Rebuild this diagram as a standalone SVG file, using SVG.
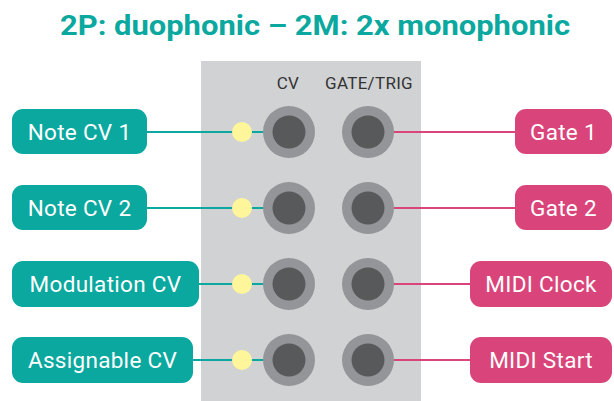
<svg xmlns="http://www.w3.org/2000/svg" width="614" height="401" viewBox="0 0 614 401">
<style>
.title{font-family:Roboto,"Liberation Sans",sans-serif;font-weight:bold;font-size:28px;fill:#0aa89e}
.hdr{font-family:Roboto,"Liberation Sans",sans-serif;font-size:17px;letter-spacing:0.3px;fill:#333}
.lbl{font-family:Roboto,"Liberation Sans",sans-serif;font-size:22.5px;letter-spacing:0.3px;fill:#fff;text-anchor:middle}
.tb{fill:#0aa89e}
.pb{fill:#d9457a}
.outer{fill:#939598}
.inner{fill:#58595b}
.led{fill:#fff59a}
.tl{stroke:#0aa89e;stroke-width:2.2;fill:none}
.pl{stroke:#d9457a;stroke-width:2.2;fill:none}
</style>
<rect width="614" height="401" fill="#fff"/>
<text class="title" x="60" y="35" textLength="510" lengthAdjust="spacingAndGlyphs">2P: duophonic – 2M: 2x monophonic</text>
<g id="panel">
<rect x="201" y="61" width="220" height="340" fill="#d1d2d4"/>
<text class="hdr" x="288" y="89" text-anchor="middle">CV</text>
<text class="hdr" x="369" y="89" text-anchor="middle">GATE/TRIG</text>
</g>
<g id="connectors">
<line class="tl" x1="147" y1="132" x2="264" y2="132"/>
<line class="tl" x1="147" y1="208" x2="264" y2="208"/>
<line class="tl" x1="199" y1="284" x2="264" y2="284"/>
<line class="tl" x1="193" y1="360" x2="264" y2="360"/>
<line class="pl" x1="393" y1="132" x2="515" y2="132"/>
<line class="pl" x1="393" y1="208" x2="515" y2="208"/>
<line class="pl" x1="393" y1="284" x2="470" y2="284"/>
<line class="pl" x1="393" y1="360" x2="470" y2="360"/>
</g>
<g id="leds">
<circle class="led" cx="242" cy="132" r="10"/>
<circle class="led" cx="242" cy="208" r="10"/>
<circle class="led" cx="242" cy="284" r="10"/>
<circle class="led" cx="242" cy="360" r="10"/>
</g>
<g id="jacks">
<circle class="outer" cx="289" cy="132" r="26"/><circle class="inner" cx="289" cy="132" r="16.5"/>
<circle class="outer" cx="289" cy="208" r="26"/><circle class="inner" cx="289" cy="208" r="16.5"/>
<circle class="outer" cx="289" cy="284" r="26"/><circle class="inner" cx="289" cy="284" r="16.5"/>
<circle class="outer" cx="289" cy="360" r="26"/><circle class="inner" cx="289" cy="360" r="16.5"/>
<circle class="outer" cx="368" cy="132" r="26"/><circle class="inner" cx="368" cy="132" r="16.5"/>
<circle class="outer" cx="368" cy="208" r="26"/><circle class="inner" cx="368" cy="208" r="16.5"/>
<circle class="outer" cx="368" cy="284" r="26"/><circle class="inner" cx="368" cy="284" r="16.5"/>
<circle class="outer" cx="368" cy="360" r="26"/><circle class="inner" cx="368" cy="360" r="16.5"/>
</g>
<g id="note-cv-1"><rect class="tb" x="12" y="109" width="135" height="45" rx="11"/><text class="lbl" x="79.5" y="140">Note CV 1</text></g>
<g id="note-cv-2"><rect class="tb" x="12" y="185" width="135" height="45" rx="11"/><text class="lbl" x="79.5" y="216">Note CV 2</text></g>
<g id="modulation-cv"><rect class="tb" x="12" y="261" width="187" height="46" rx="11"/><text class="lbl" x="105.5" y="292">Modulation CV</text></g>
<g id="assignable-cv"><rect class="tb" x="12" y="337" width="181" height="46" rx="11"/><text class="lbl" x="102.5" y="368">Assignable CV</text></g>
<g id="gate-1"><rect class="pb" x="515" y="109" width="97" height="45" rx="11"/><text class="lbl" x="563.5" y="140">Gate 1</text></g>
<g id="gate-2"><rect class="pb" x="515" y="185" width="97" height="45" rx="11"/><text class="lbl" x="563.5" y="216">Gate 2</text></g>
<g id="midi-clock"><rect class="pb" x="470" y="261" width="142" height="46" rx="11"/><text class="lbl" x="541" y="292">MIDI Clock</text></g>
<g id="midi-start"><rect class="pb" x="470" y="337" width="142" height="46" rx="11"/><text class="lbl" x="541" y="368">MIDI Start</text></g>
</svg>
